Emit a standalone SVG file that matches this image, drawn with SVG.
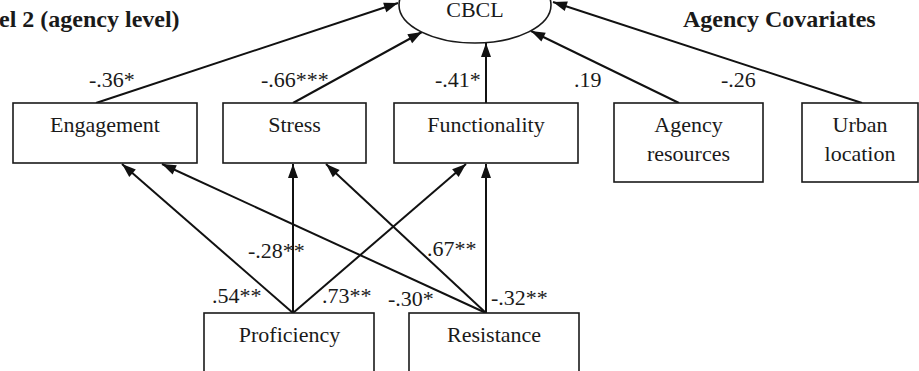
<svg xmlns="http://www.w3.org/2000/svg" width="919" height="371" viewBox="0 0 919 371">
<style>
.box{fill:#fff;stroke:#1a1a1a;stroke-width:1.6}
.t{font-family:"Liberation Serif","Tinos","Times New Roman","DejaVu Serif",serif;font-size:22px;fill:#1a1a1a}
.c{text-anchor:middle}
.h{font-family:"Liberation Serif","Tinos","Times New Roman","DejaVu Serif",serif;font-size:24px;font-weight:bold;fill:#1a1a1a}
.ln{stroke:#111;stroke-width:2;fill:none;marker-end:url(#ah)}
</style>
<defs>
<marker id="ah" markerUnits="userSpaceOnUse" markerWidth="16" markerHeight="12" viewBox="-15 -6 16 12" refX="0" refY="0" orient="auto">
<path d="M0,0 L-14,-5 L-14,5 Z" fill="#111"/>
</marker>
</defs>
<rect width="919" height="371" fill="#fff"/>
<text class="h" x="-1" y="27">el 2 (agency level)</text>
<text class="h" x="683" y="27">Agency Covariates</text>
<g id="connectors">
<line class="ln" x1="96" y1="103" x2="398" y2="3"/>
<line class="ln" x1="293" y1="103" x2="422" y2="32"/>
<line class="ln" x1="486" y1="103" x2="486" y2="43"/>
<line class="ln" x1="679" y1="103" x2="531" y2="31"/>
<line class="ln" x1="862" y1="103" x2="553" y2="2"/>
<line class="ln" x1="293" y1="313" x2="122" y2="164"/>
<line class="ln" x1="293" y1="313" x2="293" y2="164"/>
<line class="ln" x1="293" y1="313" x2="466" y2="164"/>
<line class="ln" x1="486" y1="313" x2="162" y2="164"/>
<line class="ln" x1="486" y1="313" x2="326" y2="164"/>
<line class="ln" x1="486" y1="313" x2="486" y2="164"/>
<text class="t" x="89" y="87">-.36*</text>
<text class="t" x="261" y="87">-.66***</text>
<text class="t" x="435" y="87">-.41*</text>
<text class="t" x="574" y="87">.19</text>
<text class="t" x="721" y="87">-.26</text>
<text class="t" x="248" y="258">-.28**</text>
<text class="t" x="212" y="303">.54**</text>
<text class="t" x="322" y="303">.73**</text>
<text class="t" x="388" y="306">-.30*</text>
<text class="t" x="427" y="256">.67**</text>
<text class="t" x="491" y="305">-.32**</text>
</g>
<g id="cbcl">
<ellipse cx="475" cy="5" rx="76" ry="38" fill="#fff" stroke="#1a1a1a" stroke-width="1.6"/>
<text class="t c" x="475" y="17">CBCL</text>
</g>
<g id="engagement">
<rect class="box" x="13" y="103" width="184" height="60"/>
<text class="t c" x="105" y="132">Engagement</text>
</g>
<g id="stress">
<rect class="box" x="223" y="103" width="143" height="60"/>
<text class="t c" x="294.5" y="132">Stress</text>
</g>
<g id="functionality">
<rect class="box" x="394" y="103" width="184" height="60"/>
<text class="t c" x="486" y="132">Functionality</text>
</g>
<g id="agency-resources">
<rect class="box" x="614" y="103" width="149" height="79"/>
<text class="t c" x="688.5" y="132">Agency</text>
<text class="t c" x="688.5" y="161">resources</text>
</g>
<g id="urban-location">
<rect class="box" x="802" y="103" width="116" height="79"/>
<text class="t c" x="860" y="132">Urban</text>
<text class="t c" x="860" y="161">location</text>
</g>
<g id="proficiency">
<rect class="box" x="204" y="313" width="170" height="70"/>
<text class="t c" x="289.5" y="342">Proficiency</text>
</g>
<g id="resistance">
<rect class="box" x="409" y="313" width="170" height="70"/>
<text class="t c" x="494" y="342">Resistance</text>
</g>
</svg>
